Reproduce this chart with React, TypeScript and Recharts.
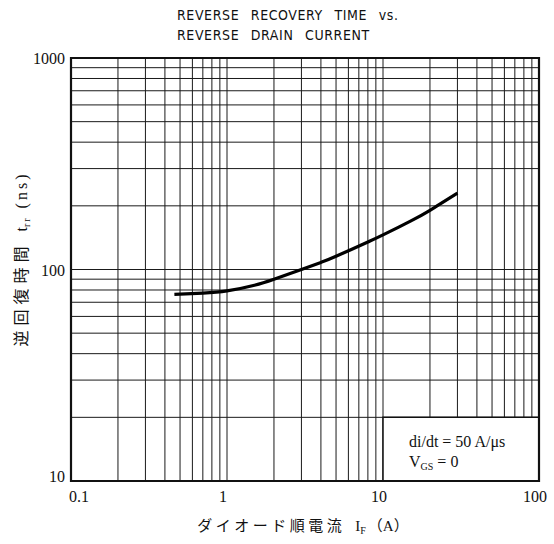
import React from 'react';
import { LineChart, Line, XAxis, YAxis, CartesianGrid, ReferenceArea, Customized } from 'recharts';

// Forward current I_F (A) and reverse recovery time t_rr (ns)
const currentA = [0.46, 0.7, 1, 1.5, 2, 3, 4, 5, 8, 10, 15, 20, 30];
const trrNs = [76.2, 77.3, 79.2, 84.3, 90, 100, 108, 115.5, 134.9, 145.7, 169.3, 190.5, 229.5];

// Log grid ticks
const xTicks = [0.1, 0.2, 0.3, 0.4, 0.5, 0.6, 0.7, 0.8, 0.9, 1, 2, 3, 4, 5, 6, 7, 8, 9, 10, 20, 30, 40, 50, 60, 70, 80, 90, 100];
const yTicks = [10, 20, 30, 40, 50, 60, 70, 80, 90, 100, 200, 300, 400, 500, 600, 700, 800, 900, 1000];
const xLabelTicks = [0.1, 1, 10, 100];
const yLabelTicks = [10, 100, 1000];
const xTickText = ['0.1', '1', '10', '100'];
const yTickText = ['10', '100', '1000'];

const titleLines = ['REVERSE RECOVERY TIME vs.', 'REVERSE DRAIN CURRENT'];
const noteLine1 = 'di/dt = 50 A/\u03bcs';

const data = currentA.map((x, i) => ({ x, y: trrNs[i] }));

const serif = '"Liberation Serif", "DejaVu Serif", serif';
const cjk = '"Liberation Serif", "Noto Sans CJK JP", serif';

const XTick = (props: any) => {
  const { x, y, payload } = props;
  const idx = xLabelTicks.indexOf(payload.value);
  if (idx < 0) return <g />;
  const dx = idx === 0 ? 8 : -4;
  return (
    <text x={x} y={y} dx={dx} dy={21} textAnchor="middle" fontFamily={serif} fontSize={16} fill="#111">
      {xTickText[idx]}
    </text>
  );
};

const YTick = (props: any) => {
  const { x, y, payload } = props;
  const idx = yLabelTicks.indexOf(payload.value);
  if (idx < 0) return <g />;
  const dy = idx === 0 ? 1 : 6;
  return (
    <text x={x} y={y} dx={-6} dy={dy} textAnchor="end" fontFamily={serif} fontSize={16} fill="#111">
      {yTickText[idx]}
    </text>
  );
};

const NoteLabel = (props: any) => {
  const vb = props.viewBox || {};
  const x0 = vb.x + 26;
  const y0 = vb.y;
  return (
    <g fontFamily={serif} fontSize={16} fill="#111">
      <text x={x0} y={y0 + 30}>{noteLine1}</text>
      <text x={x0} y={y0 + 50}>
        V<tspan fontSize={10} dy={3}>GS</tspan>
        <tspan dy={-3}> = 0</tspan>
      </text>
    </g>
  );
};

const Texts = () => (
  <g>
    <g fontFamily='"Liberation Sans Narrow", "DejaVu Sans Condensed", "Liberation Sans", sans-serif' fontSize={14} fill="#111" style={{ letterSpacing: '0.6px', wordSpacing: '7px' }}>
      <text x={177} y={20}>{titleLines[0]}</text>
      <text x={177} y={40}>{titleLines[1]}</text>
    </g>
    <text x={303} y={531} textAnchor="middle" fontFamily={cjk} fontSize={15} fill="#111">
      <tspan style={{ letterSpacing: '3.5px' }}>ダイオード順電流</tspan>
      <tspan dx={10}>I</tspan>
      <tspan fontSize={10} dy={3}>F</tspan>
      <tspan dy={-3} dx={2}>（A）</tspan>
    </text>
    <text
      x={0}
      y={0}
      transform="translate(27,259) rotate(-90)"
      textAnchor="middle"
      fontFamily={cjk}
      fontSize={16}
      fill="#111"
    >
      <tspan style={{ letterSpacing: '5px' }}>逆回復時間</tspan>
      <tspan dx={10}>t</tspan>
      <tspan fontSize={10} dy={3} style={{ letterSpacing: '2px' }}>rr</tspan>
      <tspan dy={-3} dx={8} style={{ letterSpacing: '3px' }}>(ns)</tspan>
    </text>
  </g>
);

export default function App() {
  return (
    <div style={{ position: 'absolute', left: 0, top: 0, background: '#fff' }}>
      <LineChart width={554} height={544} data={data} margin={{ top: 58, right: 15, bottom: 0, left: 0 }}>
        <CartesianGrid stroke="#1a1a1a" strokeWidth={1} />
        <XAxis
          dataKey="x"
          type="number"
          scale="log"
          domain={[0.1, 100]}
          ticks={xTicks}
          interval={0}
          height={63}
          axisLine={false}
          tickLine={false}
          tickSize={0}
          tickMargin={0}
          tick={XTick}
          allowDataOverflow
        />
        <YAxis
          dataKey="y"
          type="number"
          scale="log"
          domain={[10, 1000]}
          ticks={yTicks}
          interval={0}
          width={71}
          axisLine={false}
          tickLine={false}
          tickSize={0}
          tickMargin={0}
          tick={YTick}
          allowDataOverflow
        />
        <ReferenceArea x1={10} x2={100} y1={10} y2={20} fill="#fff" fillOpacity={1} stroke="#111" strokeWidth={1.5} label={NoteLabel} />
        <ReferenceArea x1={0.1} x2={100} y1={10} y2={1000} fill="none" stroke="#111" strokeWidth={2.2} />
        <Line
          dataKey="y"
          type="natural"
          stroke="#000"
          strokeWidth={3.2}
          dot={false}
          isAnimationActive={false}
        />
        <Customized component={Texts} />
      </LineChart>
    </div>
  );
}
